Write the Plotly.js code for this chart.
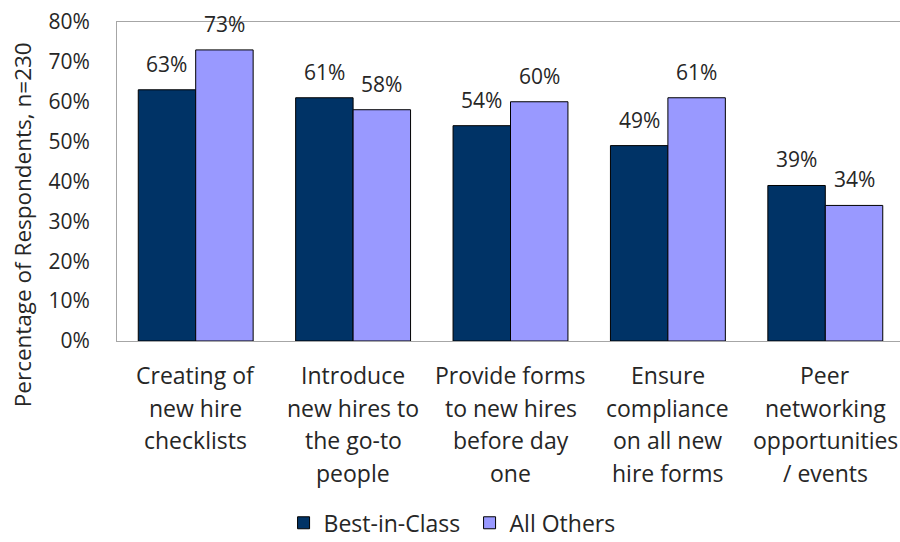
<!DOCTYPE html>
<html>
<head>
<meta charset="utf-8">
<script src="https://cdn.plot.ly/plotly-3.0.1.min.js"></script>
<style>html,body{margin:0;padding:0;overflow:hidden;background:#fff;}#chart{width:900px;height:542px;overflow:hidden;}</style>
</head>
<body>
<div id="chart"></div>
<script>
var categories = ["Creating of<br>new hire<br>checklists", "Introduce<br>new hires to<br>the go-to<br>people", "Provide forms<br>to new hires<br>before day<br>one", "Ensure<br>compliance<br>on all new<br>hire forms", "Peer<br>networking<br>opportunities<br>/ events"];
var seriesNames = ["Best-in-Class", "All Others"];
var bestInClass = [63, 61, 54, 49, 39];
var allOthers = [73, 58, 60, 61, 34];
var yTickVals = [0, 10, 20, 30, 40, 50, 60, 70, 80];
var yTickText = ["0%", "10%", "20%", "30%", "40%", "50%", "60%", "70%", "80%"];
var yTitle = "Percentage of Respondents, n=230";

var FONT = "Open Sans, sans-serif";
var TXT = "#262626";
var colors = ["#003366", "#9999FF"];
var keys = categories.map(function (c, i) { return "c" + i; });

var traces = [bestInClass, allOthers].map(function (vals, s) {
  return {
    type: "bar",
    name: seriesNames[s],
    x: keys,
    y: vals,
    marker: { color: colors[s], line: { color: "#000000", width: 1 } },
    hoverinfo: "none"
  };
});

var annotations = [];
// value labels
[bestInClass, allOthers].forEach(function (vals, s) {
  vals.forEach(function (v, i) {
    annotations.push({
      x: keys[i], y: v, xref: "x", yref: "y",
      text: v + "%", showarrow: false,
      xanchor: "center", yanchor: "bottom",
      xshift: s === 0 ? -28.75 : 28.75, yshift: 10,
      font: { family: FONT, size: 21, color: TXT }
    });
  });
});
// category labels, line by line
categories.forEach(function (c, i) {
  c.split("<br>").forEach(function (line, j) {
    annotations.push({
      x: keys[i], y: 0, xref: "x", yref: "paper",
      text: line, showarrow: false,
      xanchor: "center", yanchor: "middle",
      yshift: -34 - j * 32.5,
      font: { family: FONT, size: 23, color: TXT }
    });
  });
});
// y axis title
annotations.push({
  x: -0.119, y: 0.364, xref: "paper", yref: "paper",
  text: yTitle, showarrow: false, textangle: -90,
  xanchor: "center", yanchor: "middle",
  font: { family: FONT, size: 22.5, color: TXT }
});

var layout = {
  width: 906, height: 542,
  margin: { l: 117, r: 2, t: 22, b: 201, autoexpand: false },
  paper_bgcolor: "#ffffff", plot_bgcolor: "#ffffff",
  barmode: "group", bargap: 0.27, bargroupgap: 0,
  showlegend: true,
  legend: {
    orientation: "h", x: 0.448, xanchor: "center", y: -0.57, yanchor: "middle",
    font: { family: FONT, size: 23, color: TXT },
    itemwidth: 30, tracegroupgap: 0, entrywidth: 141
  },
  xaxis: {
    type: "category", showticklabels: false, ticks: "",
    showline: true, linecolor: "#a6a6a6", linewidth: 1, mirror: true,
    showgrid: false, zeroline: false, fixedrange: true
  },
  yaxis: {
    range: [0, 80], tickvals: yTickVals, ticktext: yTickText,
    showline: true, linecolor: "#a6a6a6", linewidth: 1, mirror: true,
    showgrid: false, zeroline: false, ticks: "",
    ticklabelstandoff: 22,
    tickfont: { family: FONT, size: 21, color: TXT }, fixedrange: true
  },
  annotations: annotations
};

Plotly.newPlot("chart", traces, layout, { displayModeBar: false, staticPlot: true });
</script>
</body>
</html>
